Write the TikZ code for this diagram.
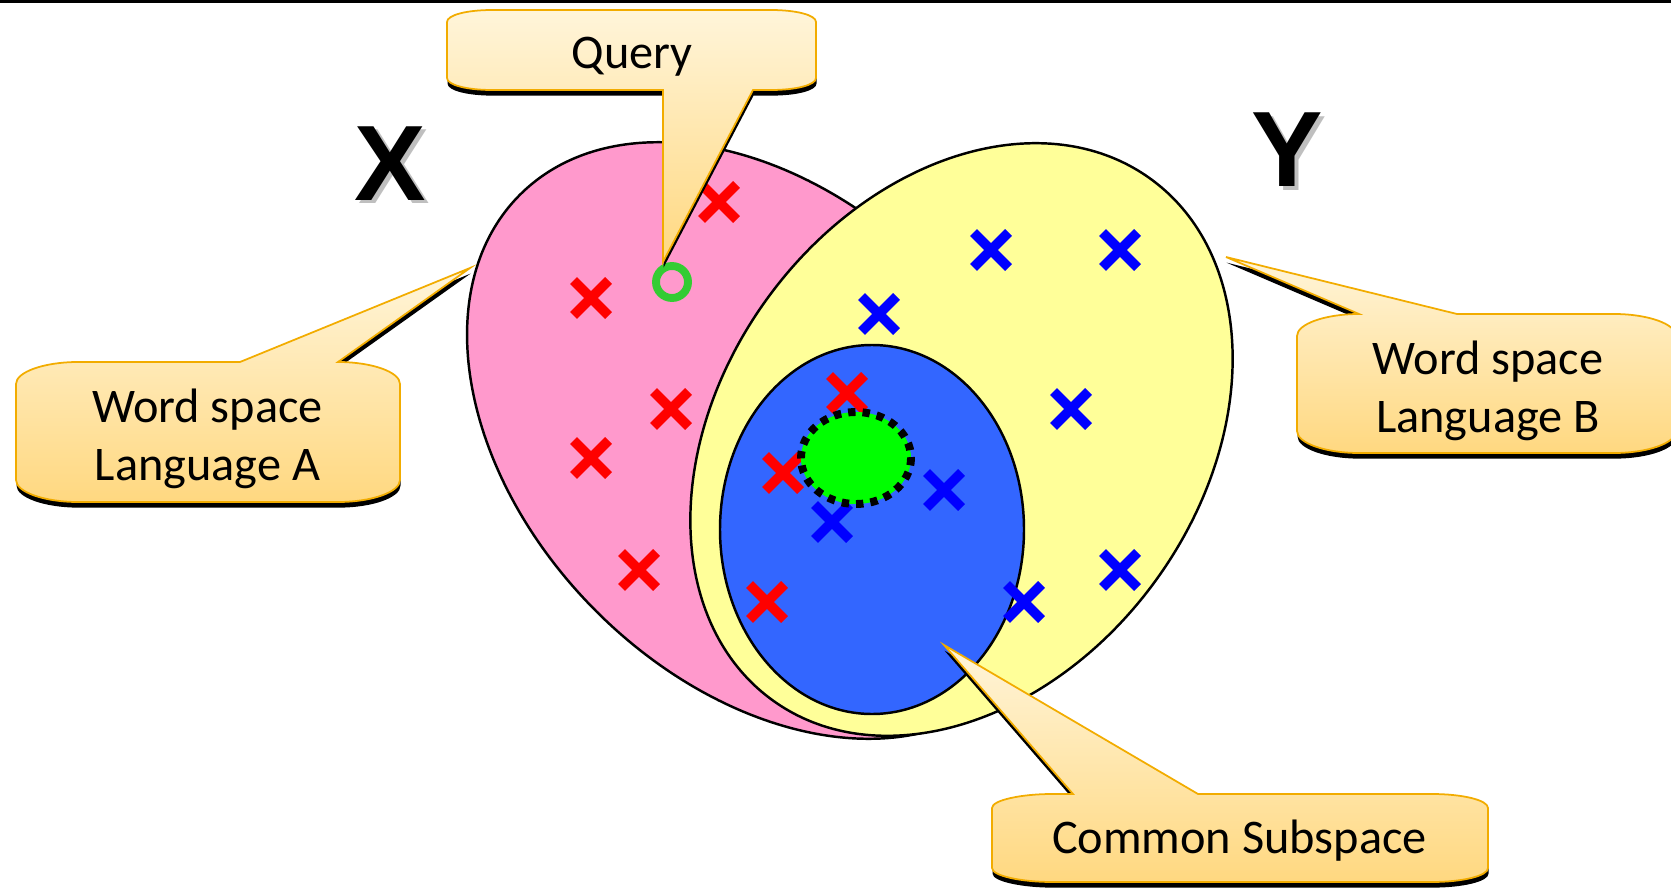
\documentclass[tikz,border=0pt]{standalone}
\usepackage{fontspec}
\setmainfont{Carlito}
\newfontfamily\letterfont{Liberation Sans}
\usetikzlibrary{shadows}
\definecolor{spaceA}{RGB}{255,153,204}
\definecolor{spaceB}{RGB}{255,255,153}
\definecolor{common}{RGB}{51,102,255}
\definecolor{querygreen}{RGB}{51,204,51}
\definecolor{calloutedge}{RGB}{242,172,0}
\definecolor{callouttop}{RGB}{255,245,218}
\definecolor{calloutbottom}{RGB}{255,216,128}
\tikzset{
  wordspace/.style={draw=black, line width=1.4pt},
  callout/.style={draw=calloutedge, line width=1pt, top color=callouttop, bottom color=calloutbottom,
    drop shadow={shadow xshift=0.3pt, shadow yshift=-3.2pt, fill=black, opacity=1}},
  callouttext/.style={font=\fontsize{27.5}{33}\selectfont, align=center, inner sep=0pt},
  xmark/.pic={\draw[line width=5.5pt] (-17.5,-17.5) -- (17.5,17.5) (-17.5,17.5) -- (17.5,-17.5);},
  bigletter/.style={font=\letterfont\bfseries\fontsize{61}{61}\selectfont, inner sep=0pt}
}
\begin{document}
\begin{tikzpicture}[x=0.02cm, y=-0.02cm]
    \useasboundingbox (0,0) rectangle (1671,889);
    \draw[line width=2pt] (0,1.5) -- (1671,1.5);
    \draw[wordspace, fill=spaceA, rotate around={-45.5:(763.5,440.5)}] (763.5,440.5) ellipse [x radius=346, y radius=239];
    \draw[wordspace, fill=spaceB, rotate around={54:(961.5,439.5)}] (961.5,439.5) ellipse [x radius=322, y radius=240];
    \draw[wordspace, fill=common] (872,529.5) ellipse [x radius=152, y radius=184.5];
    \pic[red] (r1) at (719,202) {xmark};
    \pic[red] (r2) at (591,298) {xmark};
    \pic[red] (r3) at (671,409) {xmark};
    \pic[red] (r4) at (591,458) {xmark};
    \pic[red] (r5) at (639,570) {xmark};
    \pic[red] (r6) at (767,602) {xmark};
    \pic[red] (r7) at (783,473) {xmark};
    \pic[red] (r8) at (847,393) {xmark};
    \pic[blue] (b1) at (991,250) {xmark};
    \pic[blue] (b2) at (1120,250) {xmark};
    \pic[blue] (b3) at (879,314) {xmark};
    \pic[blue] (b4) at (1071,409) {xmark};
    \pic[blue] (b5) at (944,490) {xmark};
    \pic[blue] (b6) at (832,522) {xmark};
    \pic[blue] (b7) at (1120,570) {xmark};
    \pic[blue] (b8) at (1024,602) {xmark};
    \draw[fill=green, line width=4.5pt, dash pattern=on 4.2pt off 4pt] (856,458) ellipse [x radius=55, y radius=46];
    \draw[querygreen, line width=4.5pt] (672,282) circle [radius=16];
    % callouts
    \draw[callout] (447,22) .. controls (447,15) and (467,10) .. (492,10) -- (771,10)
        .. controls (796,10) and (816,15) .. (816,22) -- (816,78) .. controls (816,85) and (796,90) .. (771,90)
        -- (753,90) -- (663,262) -- (663,90) -- (492,90) .. controls (467,90) and (447,85) .. (447,78) -- cycle;
    \node[callouttext, anchor=base] (query) at (632,68) {Query};
    \draw[callout] (16,384) .. controls (16,372) and (44,362) .. (78,362) -- (240,362) -- (470,268) -- (338,362)
        .. controls (372,362) and (400,372) .. (400,384) -- (400,480) .. controls (400,492) and (372,502) .. (338,502)
        -- (78,502) .. controls (44,502) and (16,492) .. (16,480) -- cycle;
    \node[callouttext] (langA) at (207.5,439) {Word space\\Language A};
    \draw[callout] (1297,336) .. controls (1297,324) and (1325,314) .. (1359,314) -- (1226,257) -- (1457,314) -- (1614,314)
        .. controls (1648,314) and (1676,324) .. (1676,336) -- (1676,431) .. controls (1676,443) and (1648,453) .. (1614,453)
        -- (1359,453) .. controls (1325,453) and (1297,443) .. (1297,431) -- cycle;
    \node[callouttext] (langB) at (1488,390.5) {Word space\\Language B};
    \draw[callout] (992,808) .. controls (992,800) and (1022,794) .. (1052,794) -- (1073,794) -- (944,645) -- (1198,794) -- (1432,794)
        .. controls (1462,794) and (1488,800) .. (1488,808) -- (1488,868) .. controls (1488,876) and (1462,882) .. (1432,882)
        -- (1052,882) .. controls (1022,882) and (992,876) .. (992,868) -- cycle;
    \node[callouttext, anchor=base] (subspace) at (1239.5,853) {Common Subspace};
    % language labels
    \node[bigletter, text=black!25] (xshade) at (394.5,167) {X};
    \node[bigletter] (xlabel) at (390,163.5) {X};
    \node[bigletter, text=black!25] (yshade) at (1291.5,153.5) {Y};
    \node[bigletter] (ylabel) at (1287,150) {Y};
\end{tikzpicture}
\end{document}
